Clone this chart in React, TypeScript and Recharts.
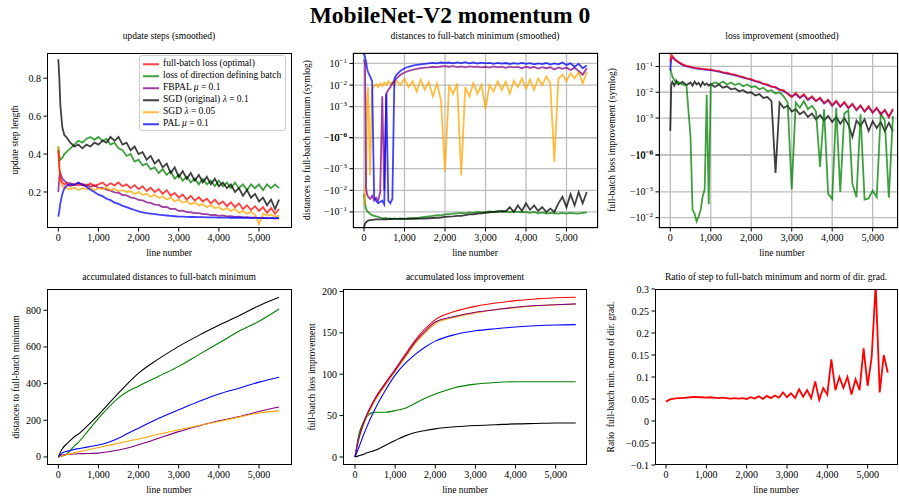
import React from "react";
import { LineChart, Line, XAxis, YAxis, CartesianGrid } from "recharts";

const FONT = '"Liberation Serif", "DejaVu Serif", "Times New Roman", serif';

const RED = "#ff0000";
const GREEN = "#008000";
const PURPLE = "#800080";
const BLACK = "#000000";
const ORANGE = "#ffa500";
const BLUE = "#0000ff";

const X_TICKS = [0, 1000, 2000, 3000, 4000, 5000];

// ---- top-left: update steps (smoothed) ----
const G1 = [
  0, 25, 50, 100, 150, 200, 300, 400, 500, 600,
  700, 800, 900, 1000, 1100, 1200, 1300, 1400, 1500, 1600,
  1700, 1800, 1900, 2000, 2100, 2200, 2300, 2400, 2500, 2600,
  2700, 2800, 2900, 3000, 3100, 3200, 3300, 3400, 3500, 3600,
  3700, 3800, 3900, 4000, 4100, 4200, 4300, 4400, 4500, 4600,
  4700, 4800, 4900, 5000, 5100, 5200, 5300, 5400, 5500,
];
const STEP_RED = [
  0.42, 0.33, 0.27, 0.25, 0.24, 0.245, 0.23, 0.24, 0.235, 0.243,
  0.23, 0.245, 0.232, 0.24, 0.25, 0.232, 0.246, 0.235, 0.25, 0.23,
  0.24, 0.22, 0.236, 0.215, 0.23, 0.205, 0.222, 0.2, 0.215, 0.19,
  0.21, 0.18, 0.195, 0.17, 0.187, 0.16, 0.18, 0.155, 0.172, 0.15,
  0.165, 0.14, 0.16, 0.135, 0.15, 0.125, 0.145, 0.12, 0.14, 0.11,
  0.13, 0.105, 0.125, 0.1, 0.12, 0.09, 0.115, 0.085, 0.11,
];
const STEP_GREEN = [
  0.44, 0.39, 0.37, 0.38, 0.4, 0.41, 0.43, 0.45, 0.47, 0.46,
  0.48, 0.49, 0.475, 0.49, 0.47, 0.48, 0.45, 0.46, 0.43, 0.42,
  0.39, 0.4, 0.36, 0.37, 0.34, 0.35, 0.32, 0.33, 0.3, 0.32,
  0.29, 0.31, 0.27, 0.29, 0.26, 0.28, 0.25, 0.27, 0.24, 0.27,
  0.24, 0.26, 0.23, 0.26, 0.23, 0.25, 0.22, 0.25, 0.22, 0.24,
  0.21, 0.24, 0.22, 0.24, 0.21, 0.24, 0.22, 0.24, 0.22,
];
const STEP_PURPLE = [
  0.2, 0.28, 0.3, 0.27, 0.26, 0.25, 0.245, 0.24, 0.247, 0.235,
  0.24, 0.228, 0.235, 0.222, 0.222, 0.212, 0.207, 0.198, 0.196, 0.184,
  0.182, 0.172, 0.168, 0.158, 0.156, 0.145, 0.142, 0.133, 0.132, 0.12,
  0.121, 0.11, 0.112, 0.1, 0.102, 0.094, 0.093, 0.088, 0.088, 0.083,
  0.083, 0.078, 0.079, 0.074, 0.076, 0.071, 0.072, 0.068, 0.07, 0.066,
  0.067, 0.064, 0.066, 0.062, 0.064, 0.061, 0.063, 0.06, 0.062,
];
const STEP_BLACK = [
  0.9, 0.8, 0.66, 0.54, 0.5, 0.49, 0.46, 0.44, 0.45, 0.43,
  0.45, 0.44, 0.46, 0.45, 0.47, 0.46, 0.49, 0.47, 0.49, 0.45,
  0.46, 0.42, 0.44, 0.4, 0.41, 0.37, 0.39, 0.35, 0.37, 0.33,
  0.35, 0.3, 0.33, 0.28, 0.31, 0.27, 0.3, 0.26, 0.29, 0.25,
  0.28, 0.24, 0.27, 0.23, 0.25, 0.22, 0.24, 0.2, 0.22, 0.18,
  0.21, 0.17, 0.19, 0.15, 0.17, 0.13, 0.16, 0.11, 0.16,
];
const STEP_ORANGE = [
  0.44, 0.34, 0.26, 0.23, 0.225, 0.22, 0.215, 0.222, 0.21, 0.22,
  0.215, 0.222, 0.21, 0.22, 0.215, 0.222, 0.21, 0.216, 0.205, 0.21,
  0.2, 0.205, 0.19, 0.2, 0.185, 0.19, 0.175, 0.185, 0.17, 0.175,
  0.16, 0.17, 0.15, 0.16, 0.145, 0.15, 0.135, 0.145, 0.13, 0.135,
  0.12, 0.13, 0.115, 0.12, 0.105, 0.115, 0.1, 0.11, 0.09, 0.1,
  0.085, 0.095, 0.08, 0.03, 0.085, 0.075, 0.08, 0.07, 0.075,
];
const STEP_BLUE = [
  0.07, 0.1, 0.14, 0.19, 0.22, 0.232, 0.24, 0.236, 0.25, 0.238,
  0.228, 0.212, 0.2, 0.186, 0.178, 0.164, 0.157, 0.144, 0.137, 0.127,
  0.12, 0.112, 0.105, 0.098, 0.093, 0.089, 0.086, 0.083, 0.08, 0.078,
  0.076, 0.074, 0.072, 0.07, 0.07, 0.069, 0.068, 0.068, 0.067, 0.067,
  0.066, 0.066, 0.066, 0.065, 0.065, 0.065, 0.064, 0.064, 0.064, 0.064,
  0.063, 0.063, 0.063, 0.063, 0.062, 0.062, 0.062, 0.062, 0.062,
];

// ---- top-middle: distances to full-batch minimum (symlog) ----
const G2 = [
  0, 25, 50, 75, 100, 150, 200, 250, 300, 350,
  400, 450, 500, 550, 600, 650, 700, 750, 800, 900,
  1000, 1100, 1200, 1300, 1400, 1500, 1600, 1700, 1800, 1900,
  2000, 2100, 2200, 2300, 2400, 2500, 2600, 2700, 2800, 2900,
  3000, 3100, 3200, 3300, 3400, 3500, 3600, 3700, 3800, 3900,
  4000, 4100, 4200, 4300, 4400, 4500, 4600, 4700, 4800, 4900,
  5000, 5100, 5200, 5300, 5400, 5500,
];
const DIST_PURPLE = [
  0.15, 0.09, -0.008, -0.015, -0.02, -0.025, -0.018, -0.03, -0.022, -0.03,
  -0.012, 0.003, -0.01, 0.004, 0.006, 0.008, 0.012, 0.015, 0.02, 0.03,
  0.038, 0.045, 0.05, 0.056, 0.06, 0.064, 0.066, 0.07, 0.068, 0.072,
  0.075, 0.07, 0.074, 0.068, 0.072, 0.066, 0.073, 0.069, 0.071, 0.065,
  0.07, 0.064, 0.072, 0.066, 0.07, 0.062, 0.071, 0.065, 0.069, 0.06,
  0.07, 0.063, 0.068, 0.058, 0.067, 0.06, 0.066, 0.052, 0.065, 0.056,
  0.064, 0.05, 0.062, 0.045, 0.03, 0.06,
];
const DIST_BLUE = [
  0.28, 0.2, 0.12, 0.06, 0.04, 0.025, 0.015, -0.02, -0.03, -0.04,
  -0.035, -0.03, -0.045, 0.004, -0.03, -0.04, -0.025, 0.02, 0.03, 0.045,
  0.06, 0.07, 0.078, 0.085, 0.09, 0.095, 0.1, 0.105, 0.1, 0.11,
  0.105, 0.11, 0.1, 0.112, 0.104, 0.115, 0.1, 0.11, 0.098, 0.108,
  0.1, 0.106, 0.095, 0.105, 0.098, 0.104, 0.094, 0.103, 0.096, 0.105,
  0.095, 0.102, 0.09, 0.1, 0.092, 0.104, 0.088, 0.1, 0.09, 0.11,
  0.085, 0.1, 0.07, 0.095, 0.06, 0.08,
];
const DIST_ORANGE = [
  -0.05, -0.02, -0.004, 0.002, 0.008, -0.002, 0.006, 0.009, 0.011, 0.008,
  0.012, 0.009, 0.013, 0.01, 0.015, 0.011, 0.014, 0.009, 0.016, 0.01,
  0.02, 0.008, 0.015, 0.005, 0.018, 0.006, 0.014, 0.003, 0.012, 0.002,
  -0.0013, 0.01, 0.004, 0.012, -0.002, 0.008, 0.003, 0.012, 0.004, 0.01,
  0.0008, 0.01, 0.005, 0.015, 0.006, 0.014, 0.004, 0.016, 0.008, 0.02,
  0.007, 0.018, 0.006, 0.02, 0.01, 0.025, 0.012, -0.0005, 0.02, 0.03,
  0.015, 0.035, 0.02, 0.04, 0.012, 0.04,
];
const DIST_GREEN = [
  -0.015, -0.04, -0.07, -0.09, -0.1, -0.12, -0.14, -0.15, -0.16, -0.17,
  -0.18, -0.19, -0.2, -0.19, -0.21, -0.2, -0.21, -0.2, -0.21, -0.2,
  -0.21, -0.2, -0.19, -0.2, -0.18, -0.17, -0.16, -0.15, -0.14, -0.145,
  -0.13, -0.125, -0.12, -0.115, -0.11, -0.115, -0.105, -0.11, -0.1, -0.105,
  -0.1, -0.095, -0.1, -0.09, -0.1, -0.095, -0.105, -0.095, -0.1, -0.105,
  -0.1, -0.11, -0.1, -0.115, -0.105, -0.12, -0.11, -0.115, -0.12, -0.11,
  -0.12, -0.11, -0.115, -0.12, -0.11, -0.105,
];
const DIST_BLACK = [
  -0.5, -0.35, -0.3, -0.27, -0.25, -0.24, -0.23, -0.225, -0.22, -0.22,
  -0.22, -0.22, -0.215, -0.22, -0.215, -0.21, -0.215, -0.21, -0.21, -0.21,
  -0.21, -0.205, -0.21, -0.2, -0.205, -0.2, -0.195, -0.19, -0.185, -0.18,
  -0.17, -0.165, -0.16, -0.15, -0.15, -0.14, -0.13, -0.13, -0.12, -0.115,
  -0.11, -0.105, -0.1, -0.1, -0.09, -0.095, -0.06, -0.1, -0.05, -0.09,
  -0.04, -0.08, -0.05, -0.09, -0.06, -0.1, -0.07, -0.1, -0.04, -0.02,
  -0.06, -0.015, -0.05, -0.012, -0.04, -0.012,
];

// ---- top-right: loss improvement (symlog) ----
const G3 = [
  0, 25, 50, 100, 150, 200, 300, 400, 500, 550,
  600, 650, 700, 750, 800, 850, 900, 950, 1000, 1100,
  1200, 1300, 1400, 1500, 1600, 1700, 1800, 1900, 2000, 2100,
  2200, 2300, 2400, 2500, 2600, 2700, 2800, 2900, 3000, 3100,
  3200, 3300, 3400, 3500, 3600, 3700, 3800, 3900, 4000, 4100,
  4200, 4300, 4400, 4500, 4600, 4700, 4800, 4900, 5000, 5100,
  5200, 5300, 5400, 5500,
];
const IMP_RED = [
  0.15, 0.3, 0.25, 0.2, 0.17, 0.15, 0.12, 0.105, 0.098, 0.092,
  0.09, 0.084, 0.087, 0.08, 0.082, 0.077, 0.08, 0.074, 0.076, 0.069,
  0.067, 0.058, 0.057, 0.05, 0.048, 0.042, 0.039, 0.034, 0.032, 0.027,
  0.026, 0.021, 0.02, 0.016, 0.016, 0.012, 0.012, 0.0085, 0.0065, 0.0095,
  0.0062, 0.0085, 0.0052, 0.007, 0.0046, 0.0062, 0.0038, 0.0052, 0.0031, 0.0047,
  0.0028, 0.0042, 0.0025, 0.0036, 0.0021, 0.0031, 0.0018, 0.0029, 0.0016, 0.0025,
  0.0014, 0.0021, 0.0011, 0.0023,
];
const IMP_GREEN = [
  0.08, 0.06, 0.04, 0.03, 0.022, 0.025, 0.02, 0.018, 0.0003, -0.005,
  -0.007, -0.014, -0.009, -0.005, -0.0015, -0.0008, 0.008, -0.003, 0.02, 0.024,
  0.021, 0.026, 0.02, 0.024, 0.019, 0.022, 0.017, 0.02, 0.016, 0.017,
  0.013, 0.015, 0.011, 0.012, 0.009, 0.01, 0.007, 0.004, -0.0008, 0.004,
  0.0025, 0.0045, 0.0022, 0.003, 0.0018, -0.0002, 0.0022, -0.0012, -0.0019, 0.0025,
  -0.001, 0.0015, 0.002, -0.0005, -0.0016, 0.0014, -0.002, -0.0018, -0.0009, -0.0016,
  0.0015, 0.0008, -0.0017, 0.0012,
];
const IMP_BLACK = [
  0.0004, 0.02, 0.025, 0.018, 0.028, 0.02, 0.025, 0.019, 0.024, 0.018,
  0.026, 0.02, 0.023, 0.017, 0.025, 0.019, 0.022, 0.018, 0.021, 0.016,
  0.02, 0.015, 0.017, 0.013, 0.014, 0.011, 0.012, 0.0095, 0.01, 0.0075,
  0.0085, 0.006, 0.0065, 0.0045, -0.0003, 0.004, 0.0025, 0.003, 0.0018, 0.0022,
  0.0014, 0.0018, 0.0011, 0.0015, 0.0009, 0.0013, 0.0008, 0.0012, 0.0007, 0.0011,
  0.0006, 0.001, 0.00055, 0.0003, 0.0008, 0.0005, 0.0009, 0.0004, 0.00075, 0.00045,
  0.0007, 0.0004, 0.00065, 0.0004,
];
const IMP_BLUE = [
  0.07, 0.2, 0.23, 0.19, 0.165, 0.145, 0.115, 0.1, 0.093, 0.088,
  0.086, 0.082, 0.081, 0.078, 0.077, 0.075, 0.074, 0.073, 0.072, 0.067,
  0.063, 0.057, 0.053, 0.049, 0.045, 0.041, 0.037, 0.034, 0.03, 0.027,
  0.024, 0.021, 0.019, 0.017, 0.015, 0.013, 0.011, 0.009, 0.0068, 0.0085,
  0.006, 0.0078, 0.005, 0.0065, 0.0045, 0.0058, 0.0037, 0.0049, 0.003, 0.0044,
  0.0027, 0.004, 0.0024, 0.0034, 0.002, 0.003, 0.0018, 0.0027, 0.0016, 0.0024,
  0.0014, 0.002, 0.0011, 0.0021,
];

// ---- bottom-left / bottom-middle: accumulated curves ----
const G45 = [0, 100, 200, 300, 400, 500, 750, 1000, 1250, 1500, 1750, 2000, 2500, 3000, 3500, 4000, 4500, 5000, 5500];
const ACC_DIST_BLACK = [0, 45, 70, 90, 110, 125, 175, 230, 290, 348, 405, 457, 535, 603, 663, 718, 770, 825, 871];
const ACC_DIST_GREEN = [0, 5, 15, 35, 60, 80, 145, 210, 270, 322, 360, 386, 440, 494, 558, 621, 685, 740, 807];
const ACC_DIST_BLUE = [0, 22, 30, 35, 41, 45, 55, 65, 80, 102, 130, 157, 211, 257, 302, 343, 375, 408, 435];
const ACC_DIST_PURPLE = [0, 10, 13, 15, 16, 17, 19, 21, 28, 38, 50, 66, 102, 138, 169, 197, 220, 248, 272];
const ACC_DIST_ORANGE = [0, 6, 12, 17, 22, 27, 39, 51, 63, 75, 87, 98, 124, 148, 171, 193, 217, 240, 251];

const ACC_LOSS_RED = [0, 24, 40, 52, 62, 71, 89, 106, 124, 141, 155, 166, 176, 182, 186, 189, 191, 192.5, 193];
const ACC_LOSS_PURPLE = [0, 23, 39, 51, 61, 70, 88, 105, 122, 139, 152, 163, 170, 175, 178, 181, 183, 184, 185];
const ACC_LOSS_ORANGE = [0, 22, 37, 49, 59, 68, 86, 103, 120, 137, 150, 161, 169, 174, 178, 180.5, 182.5, 184, 184.5];
const ACC_LOSS_BLUE = [0, 12, 25, 37, 48, 58, 80, 99, 113, 124, 133, 140, 148, 152.5, 155, 157, 158.5, 159.5, 160];
const ACC_LOSS_GREEN = [0, 28, 41, 49, 53, 54, 54, 56, 59, 65, 71, 76, 84, 88, 90, 91, 91, 91, 91];
const ACC_LOSS_BLACK = [0, 1.5, 3, 5, 6.5, 8, 14, 20, 25.5, 29.5, 32, 34, 36.5, 38, 39, 40, 40.5, 41, 41];

// ---- bottom-right: ratio ----
const G6 = [
  0, 100, 200, 300, 400, 500, 600, 700, 800, 900,
  1000, 1100, 1200, 1300, 1400, 1500, 1600, 1700, 1800, 1900,
  2000, 2100, 2200, 2300, 2400, 2500, 2600, 2700, 2800, 2900,
  3000, 3100, 3200, 3300, 3400, 3500, 3600, 3700, 3800, 3900,
  4000, 4100, 4200, 4300, 4400, 4500, 4600, 4700, 4800, 4900,
  5000, 5100, 5200, 5300, 5400, 5500,
];
const RATIO = [
  0.044, 0.049, 0.051, 0.052, 0.052, 0.053, 0.054, 0.055, 0.054, 0.054,
  0.053, 0.054, 0.053, 0.052, 0.053, 0.052, 0.051, 0.052, 0.051, 0.052,
  0.05, 0.054, 0.051, 0.056, 0.05, 0.057, 0.052, 0.058, 0.053, 0.065,
  0.054, 0.063, 0.052, 0.072, 0.055, 0.07, 0.052, 0.09, 0.048, 0.075,
  0.06, 0.14, 0.07, 0.1, 0.075, 0.1, 0.06, 0.095, 0.07, 0.165,
  0.08, 0.145, 0.31, 0.065, 0.15, 0.11,
];

const SYM_TICKS_RAW = [0.1, 0.01, 0.001, 1e-6, -1e-6, -0.001, -0.01, -0.1];
const SYM_TICKS_RAW_3 = [0.1, 0.01, 0.001, 1e-6, -1e-6, -0.001, -0.01];

// symlog axis transform (base 10, linscale 1)
const LINTHRESH = 4.8e-4;
const LINSCALE = 1 / (1 - 1 / 10);
function symlog(v: number) {
  const a = Math.abs(v);
  const s = a <= LINTHRESH ? (a / LINTHRESH) * LINSCALE : LINSCALE + Math.log10(a / LINTHRESH);
  return v < 0 ? -s : s;
}
function symexp(s: number) {
  const a = Math.abs(s);
  const v = a <= LINSCALE ? (a / LINSCALE) * LINTHRESH : LINTHRESH * Math.pow(10, a - LINSCALE);
  return s < 0 ? -v : v;
}

const fmtX = (v: number) => v.toLocaleString("en-US");
const fmtMinus = (v: number) => String(v).replace("-", "\u2212");

function SymTick(props: any) {
  const { x, y, payload } = props;
  const raw = symexp(payload.value);
  const e = Math.round(Math.log10(Math.abs(raw)));
  return (
    <text x={x} y={y} dy="0.35em" textAnchor="end" fontSize={10} fontFamily={FONT} fill="#000">
      {(raw < 0 ? "\u2212" : "") + "10"}
      <tspan dy={-4} fontSize={7}>{"\u2212" + Math.abs(e)}</tspan>
    </text>
  );
}

interface Box { x: number; y: number; w: number; h: number }
interface LineSpec { key: string; color: string; width?: number; opacity?: number; curve?: "linear" | "monotone" }

function Panel(props: {
  box: Box;
  xDomain: [number, number];
  yDomain: [number, number];
  yTicks: number[];
  yFmt?: (v: number) => string;
  sym?: boolean;
  grid?: boolean;
  data: Record<string, number>[];
  lines: LineSpec[];
}) {
  const { box, xDomain, yDomain, yTicks, yFmt, sym, grid, data, lines } = props;
  const ML = 60, MT = 10, MR = 2, MB = 30;
  const tickStyle = { fontSize: 10, fill: "#000", fontFamily: FONT };
  return (
    <>
      <div className="panel" style={{ position: "absolute", left: box.x - ML, top: box.y - MT }}>
        <LineChart width={box.w + ML + MR} height={box.h + MT + MB} data={data} margin={{ top: MT, right: MR, left: 0, bottom: 0 }}>
          {grid && <CartesianGrid stroke="#bdbdbd" strokeWidth={1.3} />}
          <XAxis
            dataKey="x"
            type="number"
            domain={xDomain}
            allowDataOverflow
            ticks={X_TICKS}
            interval={0}
            height={MB}
            tickSize={3.5}
            tickMargin={2}
            axisLine={false}
            tickLine={{ stroke: "#000" }}
            tick={tickStyle}
            tickFormatter={fmtX}
          />
          <YAxis
            type="number"
            domain={yDomain}
            allowDataOverflow
            ticks={yTicks}
            interval={0}
            width={ML}
            tickSize={3.5}
            tickMargin={2.5}
            axisLine={false}
            tickLine={{ stroke: "#000" }}
            tick={sym ? SymTick : tickStyle}
            tickFormatter={yFmt}
          />
          {lines.map((l) => (
            <Line
              key={l.key}
              type={l.curve ?? "linear"}
              dataKey={l.key}
              stroke={l.color}
              strokeWidth={l.width ?? 1.8}
              strokeOpacity={l.opacity ?? 1}
              dot={false}
              activeDot={false}
              isAnimationActive={false}
            />
          ))}
        </LineChart>
      </div>
      <div
        style={{
          position: "absolute",
          left: box.x,
          top: box.y,
          width: box.w,
          height: box.h,
          border: "1px solid #000",
          boxSizing: "border-box",
          pointerEvents: "none",
        }}
      />
    </>
  );
}

function Txt({ x, y, size = 9.5, bold, rotate, children }: { x: number; y: number; size?: number; bold?: boolean; rotate?: boolean; children: React.ReactNode }) {
  return (
    <div
      style={{
        position: "absolute",
        left: x,
        top: y,
        transform: `translate(-50%, -50%)${rotate ? " rotate(-90deg)" : ""}`,
        fontSize: size,
        fontWeight: bold ? 700 : 400,
        whiteSpace: "pre",
        lineHeight: 1,
      }}
    >
      {children}
    </div>
  );
}

const LEGEND: { label: React.ReactNode; color: string }[] = [
  { label: "full-batch loss (optimal)", color: RED },
  { label: "loss of direction defining batch", color: GREEN },
  { label: <>FBPAL <i>μ</i> = 0.1</>, color: PURPLE },
  { label: <>SGD (original) <i>λ</i> = 0.1</>, color: BLACK },
  { label: <>SGD <i>λ</i> = 0.05</>, color: ORANGE },
  { label: <>PAL <i>μ</i> = 0.1</>, color: BLUE },
];

const A = 0.75;

export default function App() {
  const d1 = G1.map((x, i) => ({
    x, red: STEP_RED[i], green: STEP_GREEN[i], purple: STEP_PURPLE[i],
    black: STEP_BLACK[i], orange: STEP_ORANGE[i], blue: STEP_BLUE[i],
  }));
  const d2 = G2.map((x, i) => ({
    x, purple: symlog(DIST_PURPLE[i]), blue: symlog(DIST_BLUE[i]), orange: symlog(DIST_ORANGE[i]),
    green: symlog(DIST_GREEN[i]), black: symlog(DIST_BLACK[i]),
  }));
  const d3 = G3.map((x, i) => ({
    x, red: symlog(IMP_RED[i]), green: symlog(IMP_GREEN[i]), black: symlog(IMP_BLACK[i]), blue: symlog(IMP_BLUE[i]),
  }));
  const d4 = G45.map((x, i) => ({
    x, black: ACC_DIST_BLACK[i], green: ACC_DIST_GREEN[i], blue: ACC_DIST_BLUE[i],
    purple: ACC_DIST_PURPLE[i], orange: ACC_DIST_ORANGE[i],
  }));
  const d5 = G45.map((x, i) => ({
    x, red: ACC_LOSS_RED[i], purple: ACC_LOSS_PURPLE[i], orange: ACC_LOSS_ORANGE[i],
    blue: ACC_LOSS_BLUE[i], green: ACC_LOSS_GREEN[i], black: ACC_LOSS_BLACK[i],
  }));
  const d6 = G6.map((x, i) => ({ x, red: RATIO[i] }));

  return (
    <div
      style={{
        position: "absolute",
        left: 0,
        top: 0,
        width: 899,
        height: 499,
        overflow: "hidden",
        background: "#fff",
        fontFamily: FONT,
        color: "#000",
      }}
    >
      <style>{`.panel svg text { font-family: ${FONT}; }`}</style>
      <Txt x={450} y={16} size={23.5} bold>MobileNet-V2 momentum 0</Txt>

      {/* top-left */}
      <Panel
        box={{ x: 47, y: 53, w: 245, h: 175 }}
        xDomain={[-282, 5822]}
        yDomain={[0.01, 0.933]}
        yTicks={[0.2, 0.4, 0.6, 0.8]}
        data={d1}
        lines={[
          { key: "green", color: GREEN, opacity: A },
          { key: "black", color: BLACK, opacity: A },
          { key: "purple", color: PURPLE, opacity: A },
          { key: "orange", color: ORANGE, opacity: A },
          { key: "red", color: RED, opacity: A },
          { key: "blue", color: BLUE, opacity: A },
        ]}
      />
      <div
        style={{
          position: "absolute",
          left: 139,
          top: 55,
          width: 147,
          height: 76,
          background: "rgba(255,255,255,0.85)",
          border: "1px solid #cccccc",
          borderRadius: 3,
          boxSizing: "border-box",
        }}
      >
        {LEGEND.map((l, i) => (
          <div key={i} style={{ position: "absolute", left: 3, top: 8 + i * 11.95, transform: "translateY(-50%)", display: "flex", alignItems: "center", fontSize: 9.5, whiteSpace: "nowrap", lineHeight: 1 }}>
            <span style={{ display: "inline-block", width: 16, height: 0, borderTop: `2px solid ${l.color}`, opacity: A, marginRight: 4 }} />
            <span>{l.label}</span>
          </div>
        ))}
      </div>
      <Txt x={169} y={37}>update steps (smoothed)</Txt>
      <Txt x={169} y={254}>line number</Txt>
      <Txt x={16} y={140} rotate>update step length</Txt>

      {/* top-middle */}
      <Panel
        box={{ x: 353, y: 53, w: 245, h: 175 }}
        xDomain={[-272, 5778]}
        yDomain={[-4.17, 3.91]}
        yTicks={SYM_TICKS_RAW.map(symlog)}
        sym
        grid
        data={d2}
        lines={[
          { key: "green", color: GREEN, opacity: A },
          { key: "black", color: BLACK, opacity: A },
          { key: "orange", color: ORANGE, opacity: A },
          { key: "purple", color: PURPLE, opacity: A },
          { key: "blue", color: BLUE, opacity: A },
        ]}
      />
      <Txt x={475} y={37}>distances to full-batch minimum (smoothed)</Txt>
      <Txt x={475} y={254}>line number</Txt>
      <Txt x={308} y={140} rotate>distances to full-batch minimum (symlog)</Txt>

      {/* top-right */}
      <Panel
        box={{ x: 659, y: 53, w: 239, h: 175 }}
        xDomain={[-279, 5626]}
        yDomain={[-2.83, 3.95]}
        yTicks={SYM_TICKS_RAW_3.map(symlog)}
        sym
        grid
        data={d3}
        lines={[
          { key: "black", color: BLACK, opacity: A },
          { key: "green", color: GREEN, opacity: A },
          { key: "blue", color: BLUE, opacity: A },
          { key: "red", color: RED, opacity: A },
        ]}
      />
      <Txt x={782} y={37}>loss improvement (smoothed)</Txt>
      <Txt x={782} y={254}>line number</Txt>
      <Txt x={613} y={140} rotate>full-batch loss improvement (symlog)</Txt>

      {/* bottom-left */}
      <Panel
        box={{ x: 47, y: 289, w: 245, h: 176 }}
        xDomain={[-282, 5822]}
        yDomain={[-44, 916]}
        yTicks={[0, 200, 400, 600, 800]}
        data={d4}
        lines={[
          { key: "green", color: GREEN, width: 1.1, curve: "monotone" },
          { key: "purple", color: PURPLE, width: 1.1, curve: "monotone" },
          { key: "black", color: BLACK, width: 1.1, curve: "monotone" },
          { key: "orange", color: ORANGE, width: 1.1, curve: "monotone" },
          { key: "blue", color: BLUE, width: 1.1, curve: "monotone" },
        ]}
      />
      <Txt x={169} y={278}>accumulated distances to full-batch minimum</Txt>
      <Txt x={169} y={491}>line number</Txt>
      <Txt x={17} y={377} rotate>distances to full-batch minimum</Txt>

      {/* bottom-middle */}
      <Panel
        box={{ x: 343, y: 289, w: 244, h: 176 }}
        xDomain={[-299, 5780]}
        yDomain={[-9.7, 203]}
        yTicks={[0, 50, 100, 150, 200]}
        data={d5}
        lines={[
          { key: "red", color: RED, width: 1.1, curve: "monotone" },
          { key: "green", color: GREEN, width: 1.1, curve: "monotone" },
          { key: "orange", color: ORANGE, width: 1.1, curve: "monotone" },
          { key: "purple", color: PURPLE, width: 1.1, curve: "monotone" },
          { key: "black", color: BLACK, width: 1.1, curve: "monotone" },
          { key: "blue", color: BLUE, width: 1.1, curve: "monotone" },
        ]}
      />
      <Txt x={465} y={278}>accumulated loss improvement</Txt>
      <Txt x={465} y={491}>line number</Txt>
      <Txt x={313} y={377} rotate>full-batch loss improvement</Txt>

      {/* bottom-right */}
      <Panel
        box={{ x: 655, y: 289, w: 243, h: 176 }}
        xDomain={[-273, 5753]}
        yDomain={[-0.1, 0.3]}
        yTicks={[-0.1, -0.05, 0, 0.05, 0.1, 0.15, 0.2, 0.25, 0.3]}
        yFmt={fmtMinus}
        data={d6}
        lines={[{ key: "red", color: RED, width: 1.8 }]}
      />
      <Txt x={776} y={278}>Ratio of step to full-batch minimum and norm of dir. grad.</Txt>
      <Txt x={776} y={491}>line number</Txt>
      <Txt x={612} y={377} rotate>{"Ratio  full-batch min. norm of dir. grad."}</Txt>
    </div>
  );
}
